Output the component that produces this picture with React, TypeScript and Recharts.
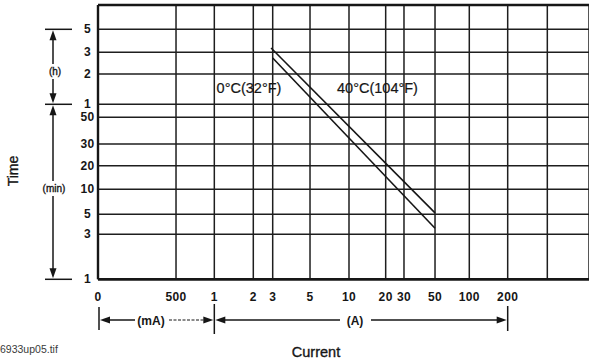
import React from 'react';
import { LineChart, Line, XAxis, YAxis, CartesianGrid, ReferenceLine } from 'recharts';

// Current scale of the graph paper: 0 and 500 mA, then amperes
const currentTicks = [0, 0.5, 1, 2, 3, 5, 10, 20, 30, 50, 100, 200, 500];
const currentTickLabels = ['0', '500', '1', '2', '3', '5', '10', '20', '30', '50', '100', '200', ''];

// Time scale in minutes: 1–50 min, then 1–5 h
const timeTicks = [1, 3, 5, 10, 20, 30, 50, 60, 120, 180, 300];
const timeTickLabels = ['1', '3', '5', '10', '20', '30', '50', '1', '2', '3', '5'];

// Trip curves: current (A) against time (min)
const current0C = [2.9, 50];
const time0C = [198, 5.2];
const current40C = [3.0, 50];
const time40C = [162, 3.5];

// Ruling of the paper: where each tick sits along its axis (0 = left/bottom, 1 = right/top)
const CURRENT_RULING = [0, 0.1589, 0.2369, 0.3163, 0.3558, 0.4318, 0.5112, 0.5859, 0.6232, 0.6864, 0.7562, 0.8344, 0.9151];
const TIME_RULING = [0, 0.1641, 0.237, 0.3281, 0.4141, 0.4933, 0.5906, 0.638, 0.7485, 0.8276, 0.9114];

const W = 589;
const H = 362;
const PLOT_LEFT = 98;
const PLOT_TOP = 5;
const PLOT_W = W - PLOT_LEFT;
const PLOT_H = 274.3;
const Y_AXIS_W = 60;
const X_AXIS_H = 30;

const FONT = '"Liberation Sans", Arial, sans-serif';
const INK = '#161616';

// Piecewise-logarithmic mapping of a value onto the paper ruling
function toRuling(v: number, ticks: number[], ruling: number[]): number {
  for (let i = 0; i < ticks.length - 1; i++) {
    const a = ticks[i];
    const b = ticks[i + 1];
    if (v >= a && v <= b) {
      const t = a <= 0 ? (v - a) / (b - a) : Math.log(v / a) / Math.log(b / a);
      return ruling[i] + t * (ruling[i + 1] - ruling[i]);
    }
  }
  return v < ticks[0] ? ruling[0] : ruling[ruling.length - 1];
}

function curve(currents: number[], times: number[]) {
  return currents.map((c, i) => ({
    x: toRuling(c, currentTicks, CURRENT_RULING),
    y: toRuling(times[i], timeTicks, TIME_RULING),
  }));
}

const data0C = curve(current0C, time0C);
const data40C = curve(current40C, time40C);

const px = (r: number) => PLOT_LEFT + r * PLOT_W;
const py = (r: number) => PLOT_TOP + (1 - r) * PLOT_H;

const tickText = {
  fontFamily: FONT,
  fontSize: 12,
  fontWeight: 'bold' as const,
  letterSpacing: 0.4,
  fill: INK,
};

function XTick(props: any) {
  const { x, payload } = props;
  const idx = CURRENT_RULING.indexOf(payload.value);
  return (
    <text x={x} y={296.5} textAnchor="middle" dominantBaseline="central" {...tickText}>
      {idx >= 0 ? currentTickLabels[idx] : ''}
    </text>
  );
}

function YTick(props: any) {
  const { y, payload } = props;
  const idx = TIME_RULING.indexOf(payload.value);
  return (
    <text x={87.5} y={y} textAnchor="middle" dominantBaseline="central" {...tickText}>
      {idx >= 0 ? timeTickLabels[idx] : ''}
    </text>
  );
}

function Arrow({ x, y, dir }: { x: number; y: number; dir: 'up' | 'down' | 'left' | 'right' }) {
  const L = 10;
  const h = 3.5;
  let pts = '';
  if (dir === 'up') pts = `${x},${y} ${x - h},${y + L} ${x + h},${y + L}`;
  if (dir === 'down') pts = `${x},${y} ${x - h},${y - L} ${x + h},${y - L}`;
  if (dir === 'left') pts = `${x},${y} ${x + L},${y - h} ${x + L},${y + h}`;
  if (dir === 'right') pts = `${x},${y} ${x - L},${y - h} ${x - L},${y + h}`;
  return <polygon points={pts} fill={INK} />;
}

const heavyText = { fill: INK, stroke: INK, strokeWidth: 0.35 };

function Annotations() {
  const bx = 53;
  const y5h = py(TIME_RULING[10]);
  const y1h = py(TIME_RULING[7]);
  const y1m = py(TIME_RULING[0]);
  const ry = 320;
  const x0 = px(CURRENT_RULING[0]) + 1;
  const x1 = px(CURRENT_RULING[2]);
  const x200 = px(CURRENT_RULING[11]);
  const line = { stroke: INK, strokeWidth: 1.5 };
  return (
    <svg width={W} height={H} style={{ position: 'absolute', left: 0, top: 0, pointerEvents: 'none' }}>
      {/* time ranges */}
      <line x1={45} x2={72} y1={y5h} y2={y5h} {...line} />
      <line x1={45} x2={72} y1={y1h} y2={y1h} {...line} />
      <line x1={45} x2={72} y1={y1m} y2={y1m} {...line} />
      <Arrow x={bx} y={y5h + 1} dir="up" />
      <line x1={bx} x2={bx} y1={y5h + 9} y2={64} {...line} />
      <text x={55} y={71.5} textAnchor="middle" dominantBaseline="central" fontFamily={FONT} fontSize={10} {...heavyText}>(h)</text>
      <line x1={bx} x2={bx} y1={79} y2={y1h - 9} {...line} />
      <Arrow x={bx} y={y1h - 1} dir="down" />
      <Arrow x={bx} y={y1h + 1} dir="up" />
      <line x1={bx} x2={bx} y1={y1h + 9} y2={181} {...line} />
      <text x={54} y={188.5} textAnchor="middle" dominantBaseline="central" fontFamily={FONT} fontSize={10} {...heavyText}>(min)</text>
      <line x1={bx} x2={bx} y1={196} y2={y1m - 9} {...line} />
      <Arrow x={bx} y={y1m - 1} dir="down" />
      <text
        x={13}
        y={171}
        transform="rotate(-90 13 171)"
        textAnchor="middle"
        dominantBaseline="central"
        fontFamily={FONT}
        fontSize={14}
        {...heavyText}
      >
        Time
      </text>

      {/* current ranges */}
      <line x1={x0} x2={x0} y1={307} y2={330} {...line} />
      <Arrow x={x0 + 1} y={ry} dir="left" />
      <line x1={x0 + 10} x2={135} y1={ry} y2={ry} {...line} />
      <text x={151} y={ry + 1} textAnchor="middle" dominantBaseline="central" fontFamily={FONT} fontSize={12} fontWeight="bold" fill={INK}>(mA)</text>
      <line x1={169} x2={x1 - 10} y1={ry} y2={ry} stroke={INK} strokeWidth={1.1} strokeDasharray="3 1.5" />
      <Arrow x={x1 - 1} y={ry} dir="right" />
      <line x1={x1} x2={x1} y1={304} y2={334} {...line} />
      <Arrow x={x1 + 1} y={ry} dir="left" />
      <line x1={x1 + 10} x2={340} y1={ry} y2={ry} {...line} />
      <text x={355} y={ry + 1} textAnchor="middle" dominantBaseline="central" fontFamily={FONT} fontSize={12} fontWeight="bold" fill={INK}>(A)</text>
      <line x1={371} x2={x200 - 10} y1={ry} y2={ry} {...line} />
      <Arrow x={x200 - 1} y={ry} dir="right" />
      <line x1={x200} x2={x200} y1={306} y2={331} {...line} />
      <text x={316} y={352} textAnchor="middle" dominantBaseline="central" fontFamily={FONT} fontSize={14.5} {...heavyText}>
        Current
      </text>
      <text x={0} y={349} dominantBaseline="central" fontFamily={FONT} fontSize={10.5} fill="#3a3a3a">
        6933up05.tif
      </text>

      {/* curve labels */}
      <text x={249} y={88} textAnchor="middle" dominantBaseline="central" fontFamily={FONT} fontSize={14.5} {...heavyText} strokeWidth={0.2}>
        0°C(32°F)
      </text>
      <text x={377.5} y={88} textAnchor="middle" dominantBaseline="central" fontFamily={FONT} fontSize={14.5} {...heavyText} strokeWidth={0.2}>
        40°C(104°F)
      </text>
    </svg>
  );
}

export default function App() {
  return (
    <div style={{ position: 'absolute', left: 0, top: 0, width: W, height: H, background: '#fff', overflow: 'hidden' }}>
      <LineChart
        width={W}
        height={H}
        margin={{ top: PLOT_TOP, right: 0, left: PLOT_LEFT - Y_AXIS_W, bottom: H - PLOT_TOP - PLOT_H - X_AXIS_H }}
      >
        <CartesianGrid stroke="#1e1e1e" strokeWidth={1.5} />
        <XAxis
          type="number"
          dataKey="x"
          domain={[0, 1]}
          ticks={CURRENT_RULING}
          allowDataOverflow
          axisLine={false}
          tickLine={false}
          height={X_AXIS_H}
          tick={<XTick />}
          interval={0}
        />
        <YAxis
          type="number"
          dataKey="y"
          domain={[0, 1]}
          ticks={[...TIME_RULING, 1]}
          allowDataOverflow
          axisLine={false}
          tickLine={false}
          width={Y_AXIS_W}
          tick={<YTick />}
          interval={0}
        />
        <ReferenceLine y={1} stroke={INK} strokeWidth={2.4} />
        <ReferenceLine y={0} stroke={INK} strokeWidth={2.8} />
        <ReferenceLine x={0} stroke={INK} strokeWidth={2.4} />
        <Line data={data0C} dataKey="y" type="linear" stroke={INK} strokeWidth={1.6} dot={false} isAnimationActive={false} />
        <Line data={data40C} dataKey="y" type="linear" stroke={INK} strokeWidth={1.6} dot={false} isAnimationActive={false} />
      </LineChart>
      <Annotations />
    </div>
  );
}
